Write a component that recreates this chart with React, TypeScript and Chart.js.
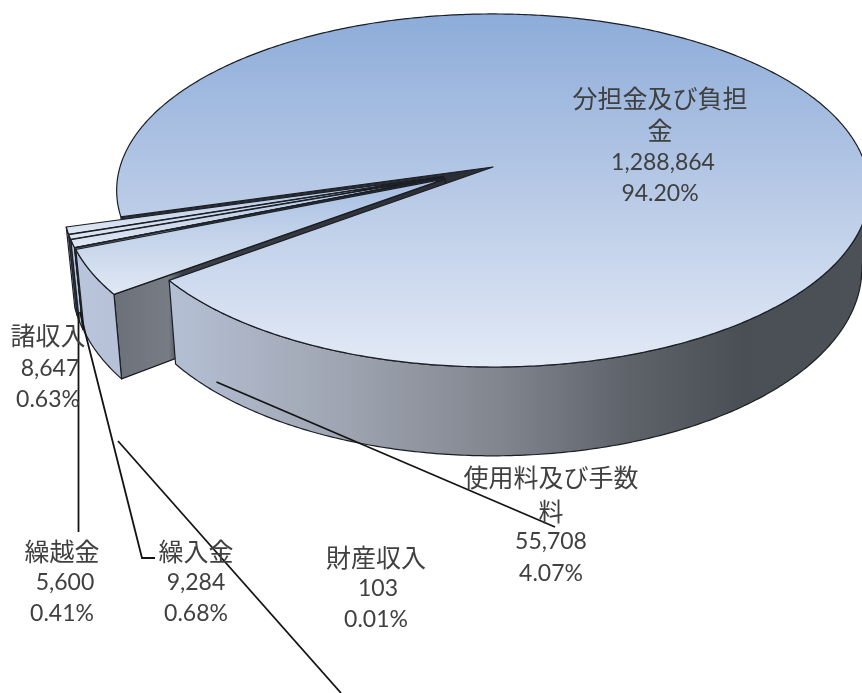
import React, { useEffect, useRef } from "react";
import { Chart, registerables } from "chart.js";

Chart.register(...registerables);

const categories = ["分担金及び負担金", "使用料及び手数料", "財産収入", "繰入金", "繰越金", "諸収入"];
const values = [1288864, 55708, 103, 9284, 5600, 8647];
const wrappedNames = [["分担金及び負担", "金"], ["使用料及び手数", "料"], ["財産収入"], ["繰入金"], ["繰越金"], ["諸収入"]];

// label layout: centre x per line, y of each line
const labelLayout = [
  { xs: [660, 660, 663, 660], ys: [98, 130, 163, 194] },
  { xs: [551, 551, 551, 551], ys: [477, 511, 542, 574] },
  { xs: [376, 378, 376], ys: [557, 589, 620] },
  { xs: [196, 196, 196], ys: [551, 583, 614] },
  { xs: [62, 65, 62], ys: [551, 583, 614] },
  { xs: [48, 50, 48], ys: [335, 369, 400] },
];
const leaders: number[][][] = [
  [[216.5, 382], [555, 527]],
  [[118, 441], [341, 693]],
  [[80, 312], [142, 558], [155, 558]],
  [[78.5, 312], [78.5, 532]],
];

const START_DEG = 253.9;
const OFFSET = 87;
const P = { ox: 493, oy: 167, a: 373, b: 173.4, c: 77, k: -0.133, s: 0.02 };
const W = 862, H = 693;

function project(x: number, y: number, z: number): [number, number] {
  const w = 1 + P.k * y;
  return [P.ox + ((P.a * x) / w) * (1 - P.s * z), P.oy + (P.b * y + P.c * z) / w];
}

const threeD = {
  id: "threeD",
  beforeDatasetsDraw(chart: any) {
    const ctx: CanvasRenderingContext2D = chart.ctx;
    const arcs: any[] = chart.getDatasetMeta(0).data;
    const R = arcs[0].outerRadius;
    const centre = (el: any): [number, number] => {
      const mid = (el.startAngle + el.endAngle) / 2;
      const o = (el.options.offset || 0) / 4;
      return [(el.x + Math.cos(mid) * o) / R, (el.y + Math.sin(mid) * o) / R];
    };
    const mc = centre(arcs[0]);
    const geom = arcs.map((el) => {
      const c = centre(el);
      return { cx: c[0] - mc[0], cy: c[1] - mc[1], s: el.startAngle, e: el.endAngle };
    });
    const pt = (g: any, ang: number, r: number, z: number) =>
      project(g.cx + Math.cos(ang) * r, g.cy + Math.sin(ang) * r, z);
    const poly = (pts: [number, number][]) => {
      ctx.beginPath();
      pts.forEach((p, i) => (i ? ctx.lineTo(p[0], p[1]) : ctx.moveTo(p[0], p[1])));
      ctx.closePath();
    };
    const sweep = (g: any, from: number, to: number, z: number) => {
      const n = Math.max(2, Math.ceil(Math.abs(to - from) / 0.01));
      const out: [number, number][] = [];
      for (let i = 0; i <= n; i++) out.push(pt(g, from + ((to - from) * i) / n, 1, z));
      return out;
    };
    const wallGrad = ctx.createLinearGradient(70, 0, 862, 0);
    wallGrad.addColorStop(0, "#b9c5dc");
    wallGrad.addColorStop(0.15, "#b3bdd1");
    wallGrad.addColorStop(0.35, "#9ea4b0");
    wallGrad.addColorStop(0.55, "#80848d");
    wallGrad.addColorStop(0.7, "#5f646b");
    wallGrad.addColorStop(0.85, "#4a4f56");
    wallGrad.addColorStop(1, "#4c5158");

    const stroke = () => {
      ctx.strokeStyle = "#1b1f25";
      ctx.lineWidth = 1.2;
      ctx.lineJoin = "round";
      ctx.stroke();
    };
    const cut = (g: any, ang: number, fill: any) => {
      poly([pt(g, ang, 0, 0), pt(g, ang, 1, 0), pt(g, ang, 1, 1), pt(g, ang, 0, 1)]);
      ctx.fillStyle = fill;
      ctx.fill();
      stroke();
    };
    const top = (g: any, y0: number, y1: number, c0: string, c1: string, c2: string) => {
      const grad = ctx.createLinearGradient(0, y0, 0, y1);
      grad.addColorStop(0, c0);
      grad.addColorStop(0.5, c1);
      grad.addColorStop(1, c2);
      poly([pt(g, 0, 0, 0), ...sweep(g, g.s, g.e, 0)]);
      ctx.fillStyle = grad;
      ctx.fill();
      stroke();
    };
    const wall = (g: any, from: number, to: number) => {
      poly([...sweep(g, from, to, 0), ...sweep(g, to, from, 1)]);
      ctx.fillStyle = wallGrad;
      ctx.fill();
      stroke();
    };

    ctx.save();
    const main = geom[0];
    // main slice's far cut face, seen through the gap
    cut(main, main.s, "#2b2e35");
    // small slices, back to front
    for (let i = geom.length - 1; i >= 1; i--) {
      const g = geom[i];
      const faceGrad = ctx.createLinearGradient(115, 0, 450, 0);
      faceGrad.addColorStop(0, "#6c7079");
      faceGrad.addColorStop(0.16, "#787c84");
      faceGrad.addColorStop(0.2, "#3c3f46");
      faceGrad.addColorStop(1, "#2b2e35");
      cut(g, g.s, faceGrad);
      wall(g, g.s, g.e);
      const a0 = pt(g, 0, 0, 0)[1];
      const a1 = pt(g, g.s, 1, 0)[1];
      top(g, a0, a1, "#a5bee3", "#c4d3ea", "#e0e8f4");
    }
    // main slice
    wall(main, 0.14, main.e - 2 * Math.PI);
    top(main, 14, 367, "#8dacd9", "#b7c9e6", "#e3eaf6");
    ctx.restore();
    return false;
  },
  afterDraw(chart: any) {
    const ctx: CanvasRenderingContext2D = chart.ctx;
    ctx.save();
    ctx.strokeStyle = "#141414";
    ctx.lineWidth = 1.8;
    leaders.forEach((l) => {
      ctx.beginPath();
      l.forEach((p, i) => (i ? ctx.lineTo(p[0], p[1]) : ctx.moveTo(p[0], p[1])));
      ctx.stroke();
    });
    const total = values.reduce((s, v) => s + v, 0);
    ctx.fillStyle = "#404040";
    ctx.textAlign = "center";
    ctx.textBaseline = "middle";
    values.forEach((v, i) => {
      const lines = [
        ...wrappedNames[i],
        v.toLocaleString("en-US"),
        ((v / total) * 100).toFixed(2) + "%",
      ];
      const nameCount = wrappedNames[i].length;
      lines.forEach((t, j) => {
        ctx.font = j < nameCount ? '25px "Noto Sans CJK JP"' : '23px Lato, "Noto Sans"';
        ctx.fillText(t, labelLayout[i].xs[j], labelLayout[i].ys[j]);
      });
    });
    ctx.restore();
  },
};

export default function App() {
  const ref = useRef<HTMLCanvasElement>(null);
  useEffect(() => {
    const chart = new Chart(ref.current!, {
      type: "pie",
      data: {
        labels: categories,
        datasets: [{ data: values, offset: OFFSET, backgroundColor: "#b7c9e6", borderColor: "#1b1f25", borderWidth: 1 }],
      },
      options: {
        responsive: false,
        animation: false,
        rotation: START_DEG,
        plugins: { legend: { display: false }, tooltip: { enabled: false }, title: { display: false } },
      },
      plugins: [threeD],
    } as any);
    return () => chart.destroy();
  }, []);
  return (
    <canvas
      ref={ref}
      width={W}
      height={H}
      style={{ position: "fixed", left: 0, top: 0, width: W, height: H, display: "block", background: "#fff" }}
    />
  );
}
